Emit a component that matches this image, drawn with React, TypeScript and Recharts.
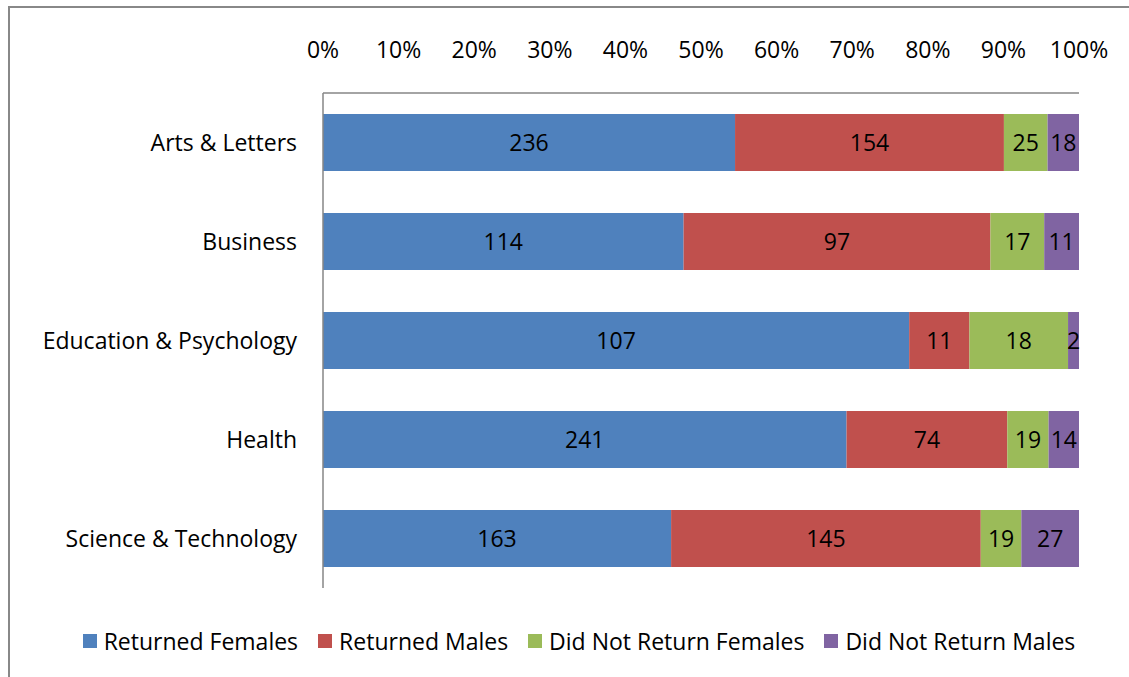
import { Bar, BarChart, LabelList, Legend, XAxis, YAxis } from "recharts";

const categories = [
  "Arts & Letters",
  "Business",
  "Education & Psychology",
  "Health",
  "Science & Technology",
];
const returnedFemales = [236, 114, 107, 241, 163];
const returnedMales = [154, 97, 11, 74, 145];
const notReturnedFemales = [25, 17, 18, 19, 19];
const notReturnedMales = [18, 11, 2, 14, 27];
const percentTicks = [0, 0.1, 0.2, 0.3, 0.4, 0.5, 0.6, 0.7, 0.8, 0.9, 1];

const series = [
  { key: "rf", name: "Returned Females", color: "#4F81BD" },
  { key: "rm", name: "Returned Males", color: "#C0504D" },
  { key: "nf", name: "Did Not Return Females", color: "#9BBB59" },
  { key: "nm", name: "Did Not Return Males", color: "#8064A2" },
];

const data = categories.map((name, i) => ({
  name,
  rf: returnedFemales[i],
  rm: returnedMales[i],
  nf: notReturnedFemales[i],
  nm: notReturnedMales[i],
}));

const FONT = "'Open Sans', 'Noto Sans', sans-serif";
const FS = 23;

function LegendBox() {
  return (
    <div
      style={{
        height: 106,
        display: "flex",
        alignItems: "center",
        justifyContent: "center",
        gap: 20,
        paddingLeft: 29,
        boxSizing: "border-box",
        fontFamily: FONT,
        fontSize: FS,
        color: "#000",
      }}
    >
      {series.map((s) => (
        <div key={s.key} style={{ display: "flex", alignItems: "center" }}>
          <span style={{ width: 14, height: 14, background: s.color, marginRight: 7, display: "inline-block" }} />
          <span>{s.name}</span>
        </div>
      ))}
    </div>
  );
}

export default function App() {
  return (
    <div style={{ position: "absolute", left: 0, top: 0, width: 1129, height: 677, overflow: "hidden", background: "#fff" }}>
      <div
        style={{
          position: "absolute",
          left: 8,
          top: 6,
          width: 1200,
          height: 700,
          border: "2px solid #888",
          boxSizing: "border-box",
        }}
      />
      <div style={{ position: "absolute", left: 0, top: 0 }}>
        <BarChart
          width={1129}
          height={720}
          data={data}
          layout="vertical"
          stackOffset="expand"
          margin={{ top: 20, right: 50, bottom: 26, left: 0 }}
        >
          <XAxis
            type="number"
            orientation="top"
            domain={[0, 1]}
            ticks={percentTicks}
            tickFormatter={(v: number) => `${Math.round(v * 100)}%`}
            height={73}
            tickLine={false}
            tickSize={0}
            tickMargin={35}
            axisLine={{ stroke: "#868686", strokeWidth: 1.5 }}
            tick={{ fill: "#000", fontSize: FS, fontFamily: FONT }}
            interval={0}
          />
          <YAxis
            type="category"
            dataKey="name"
            width={323}
            tickLine={false}
            tickSize={0}
            tickMargin={26}
            axisLine={{ stroke: "#868686", strokeWidth: 1.5 }}
            tick={{ fill: "#000", fontSize: FS, fontFamily: FONT }}
            interval={0}
          />
          <Legend verticalAlign="bottom" wrapperStyle={{ left: 0, width: 1129 }} content={() => <LegendBox />} />
          {series.map((s) => (
            <Bar key={s.key} dataKey={s.key} name={s.name} stackId="a" fill={s.color} barSize={57} isAnimationActive={false}>
              <LabelList dataKey={s.key} position="center" fill="#000" fontSize={FS} fontFamily={FONT} />
            </Bar>
          ))}
        </BarChart>
      </div>
    </div>
  );
}
